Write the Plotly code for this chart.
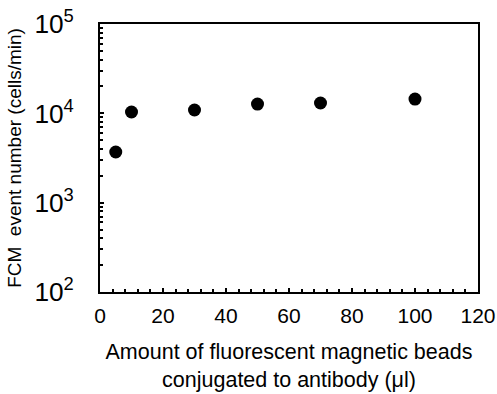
import plotly.graph_objects as go

amount_ul = [5, 10, 30, 50, 70, 100]
event_number = [3690, 10350, 10900, 12700, 13060, 14450]

fig = go.Figure()
fig.add_trace(go.Scatter(
    x=amount_ul, y=event_number, mode="markers",
    marker=dict(color="black", size=13),
    showlegend=False,
))

font = "Liberation Sans, Arial, sans-serif"
fig.update_layout(
    width=497, height=394,
    margin=dict(l=100, r=19, t=24, b=102),
    paper_bgcolor="white", plot_bgcolor="white",
    font=dict(family=font, size=21, color="black"),
    xaxis=dict(
        range=[0, 120], dtick=20, tick0=0,
        showline=True, linecolor="black", linewidth=2, mirror=True,
        ticks="inside", ticklen=4, tickwidth=1.5, tickcolor="black",
        minor=dict(ticks="inside", dtick=4, ticklen=3, tickwidth=1.5, tickcolor="black"),
        showgrid=False, zeroline=False, automargin=False,
        ticklabelstandoff=4,
        tickfont=dict(size=21),
        title=dict(text="Amount of fluorescent magnetic beads<br>conjugated to antibody (μl)",
                   standoff=18, font=dict(size=21.5)),
    ),
    yaxis=dict(
        type="log", range=[2, 5], dtick=1,
        exponentformat="power",
        showline=True, linecolor="black", linewidth=2, mirror=True,
        ticks="inside", ticklen=4, tickwidth=1.5, tickcolor="black",
        minor=dict(ticks="inside", dtick="D1", ticklen=3, tickwidth=1.5, tickcolor="black"),
        showgrid=False, zeroline=False, automargin=False,
        ticklabelstandoff=20,
        tickfont=dict(size=21),
        title=dict(text="FCM  event number (cells/min)", standoff=8, font=dict(size=19)),
    ),
)

fig.write_html("out.html", config={"displayModeBar": False},
               post_script="document.body.style.margin='0';")
